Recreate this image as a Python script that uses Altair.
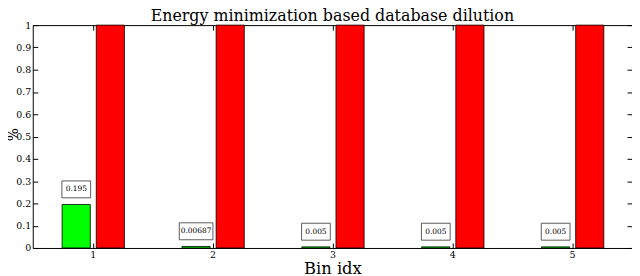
import altair as alt
import pandas as pd

bins = [1, 2, 3, 4, 5]
green_vals = [0.195, 0.00687, 0.005, 0.005, 0.005]
red_vals = [1.0, 1.0, 1.0, 1.0, 1.0]
green_labels = ["0.195", "0.00687", "0.005", "0.005", "0.005"]
y_ticks = [0, 0.1, 0.2, 0.3, 0.4, 0.5, 0.6, 0.7, 0.8, 0.9, 1]
title_text = ["Energy minimization based database dilution"]
y_title = ["%"]

df = pd.DataFrame({"bin": bins, "g": green_vals, "r": red_vals, "lab": green_labels})

FONT = "DejaVu Serif"
W, H = 605, 225
XS = alt.Scale(domain=[0.5, 5.5], nice=False, zero=False)
YS = alt.Scale(domain=[0, 1], nice=False, zero=False)

common_axis = dict(domain=False, grid=False, tickColor="black", tickSize=5, offset=-5,
                   labelFont=FONT, labelFontSize=9.5, labelColor="black", labelPadding=2)

ax_bottom = alt.Axis(orient="bottom", values=bins, format="d", title="Bin idx",
                     titleFont=FONT, titleFontSize=16.5, titleFontWeight="normal",
                     titleColor="black", titlePadding=1, **common_axis)
ax_left = alt.Axis(orient="left", values=y_ticks, format="~g", title=None, **common_axis)
ax_top = alt.Axis(orient="top", values=bins, labels=False, title=None, **common_axis)
ax_right = alt.Axis(orient="right", values=y_ticks, labels=False, title=None, **common_axis)

base = alt.Chart(df)

green = base.transform_calculate(
    x1="datum.bin - 0.255", x2="datum.bin - 0.02"
).mark_rect(color="#00ff00", stroke="black", strokeWidth=0.8).encode(
    x=alt.X("x1:Q", scale=XS, axis=ax_bottom),
    x2="x2:Q",
    y=alt.Y("g:Q", scale=YS, axis=ax_left),
    y2=alt.Y2(datum=0),
)

red = base.transform_calculate(
    x1="datum.bin + 0.03", x2="datum.bin + 0.265"
).mark_rect(color="#ff0000", stroke="black", strokeWidth=0.8).encode(
    x=alt.X("x1:Q", scale=XS, axis=ax_top),
    x2="x2:Q",
    y=alt.Y("r:Q", scale=YS, axis=ax_right),
    y2=alt.Y2(datum=0),
)

boxes = base.transform_calculate(
    cx="datum.bin - 0.137",
    hw="(length(datum.lab) * 2.5 + 16.5) / 2 / 121",
    bx1="datum.cx - datum.hw", bx2="datum.cx + datum.hw",
    cy="datum.g + 0.068",
    by1="datum.cy - 0.038", by2="datum.cy + 0.038",
).mark_rect(fill="white", stroke="#333333", strokeWidth=0.8).encode(
    x=alt.X("bx1:Q", scale=XS, axis=None),
    x2="bx2:Q",
    y=alt.Y("by1:Q", scale=YS, axis=None),
    y2="by2:Q",
)

texts = base.transform_calculate(
    cx="datum.bin - 0.137", cy="datum.g + 0.068"
).mark_text(font=FONT, fontSize=7.5, color="black", baseline="middle", align="center").encode(
    x=alt.X("cx:Q", scale=XS, axis=None),
    y=alt.Y("cy:Q", scale=YS, axis=None),
    text="lab:N",
)

title_mark = alt.Chart(pd.DataFrame({"t": title_text})).mark_text(
    font=FONT, fontSize=16, color="black", baseline="alphabetic", align="center"
).encode(x=alt.value(W / 2), y=alt.value(-4), text="t:N")

ytitle_mark = alt.Chart(pd.DataFrame({"t": y_title})).mark_text(
    font=FONT, fontSize=14, color="black", baseline="middle", align="center", angle=270
).encode(x=alt.value(-19), y=alt.value(H / 2 - 2), text="t:N")

chart = alt.layer(green, red, boxes, texts, title_mark, ytitle_mark).resolve_scale(
    x="independent", y="independent"
).properties(
    width=W, height=H,
    autosize=alt.AutoSizeParams(type="none"),
    padding={"left": 25, "top": 16, "right": 0, "bottom": 27},
).configure_view(stroke="black", strokeWidth=1)

chart.save("out.html", embed_options={"renderer": "svg", "actions": False})
